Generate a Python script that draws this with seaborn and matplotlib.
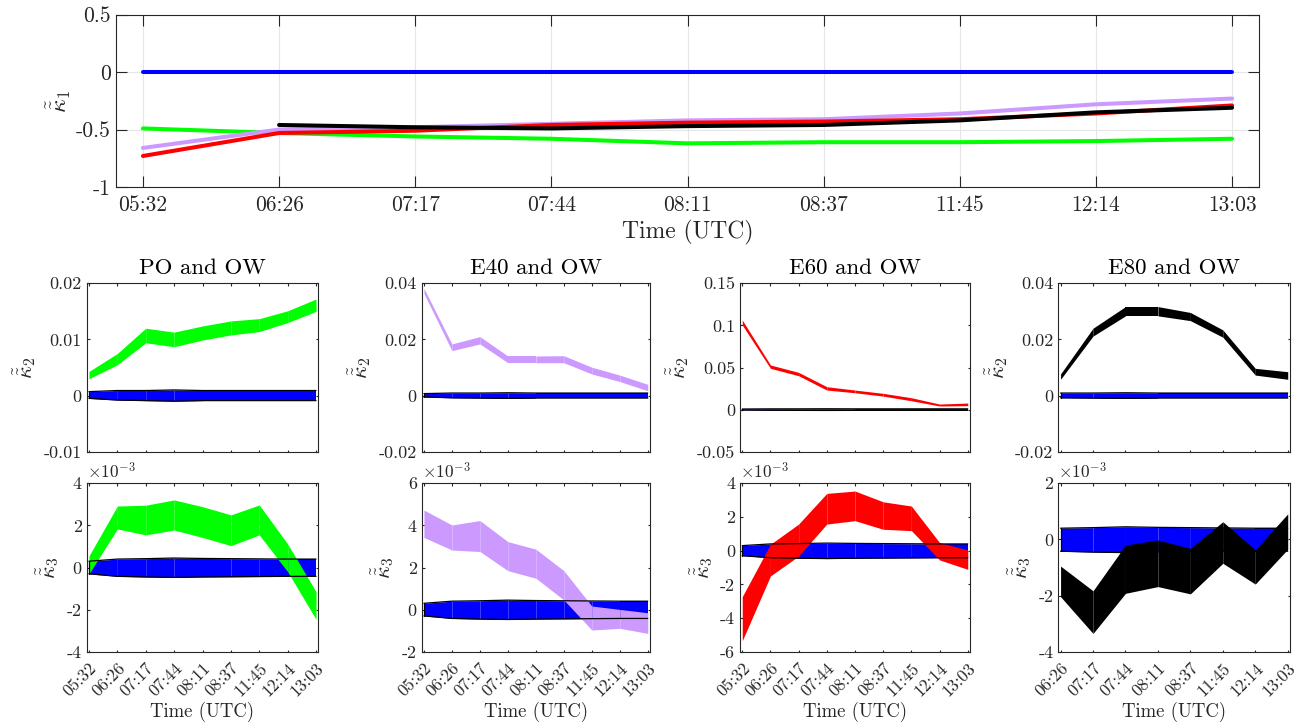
import numpy as np
import pandas as pd
import matplotlib
matplotlib.use("Agg")
import matplotlib.pyplot as plt
import seaborn as sns
from matplotlib.ticker import FixedLocator, FuncFormatter

# ---------------------------------------------------------------- data
times = ["05:32", "06:26", "07:17", "07:44", "08:11", "08:37", "11:45", "12:14", "13:03"]

# first cumulant, one line per surface type
k1_ow = [0.0, 0.0, 0.0, 0.0, 0.0, 0.0, 0.0, 0.0, 0.0]
k1_po = [-0.49, -0.53, -0.56, -0.58, -0.62, -0.61, -0.61, -0.60, -0.58]
k1_e40 = [-0.66, -0.50, -0.48, -0.45, -0.42, -0.41, -0.36, -0.28, -0.23]
k1_e60 = [-0.73, -0.53, -0.51, -0.46, -0.44, -0.43, -0.41, -0.36, -0.29]
k1_e80 = [np.nan, -0.46, -0.48, -0.49, -0.47, -0.46, -0.42, -0.35, -0.31]

# second cumulant bands (upper / lower)
k2_ow_hi = [0.0007, 0.0009, 0.0009, 0.0010, 0.0009, 0.0009, 0.0009, 0.0009, 0.0009]
k2_ow_lo = [-0.0005, -0.0008, -0.0009, -0.0010, -0.0009, -0.0009, -0.0009, -0.0009, -0.0009]
k2_po_hi = [0.0043, 0.0075, 0.0120, 0.0113, 0.0124, 0.0133, 0.0137, 0.0151, 0.0172]
k2_po_lo = [0.0030, 0.0055, 0.0094, 0.0087, 0.0099, 0.0108, 0.0114, 0.0130, 0.0150]
k2_e40_hi = [0.0382, 0.0184, 0.0210, 0.0141, 0.0141, 0.0142, 0.0101, 0.0073, 0.0040]
k2_e40_lo = [0.0364, 0.0160, 0.0184, 0.0117, 0.0117, 0.0117, 0.0077, 0.0050, 0.0017]
k2_e60_hi = [0.1064, 0.0530, 0.0442, 0.0272, 0.0232, 0.0193, 0.0141, 0.0066, 0.0078]
k2_e60_lo = [0.1005, 0.0490, 0.0402, 0.0232, 0.0200, 0.0160, 0.0105, 0.0043, 0.0047]
k2_e80_hi = [0.0077, 0.0240, 0.0317, 0.0317, 0.0296, 0.0234, 0.0097, 0.0085]
k2_e80_lo = [0.0058, 0.0212, 0.0284, 0.0284, 0.0267, 0.0208, 0.0073, 0.0058]

# third cumulant bands (upper / lower)
k3_ow_hi = [0.00030, 0.00040, 0.00042, 0.00045, 0.00043, 0.00042, 0.00041, 0.00040, 0.00040]
k3_ow_lo = [-0.00030, -0.00042, -0.00045, -0.00047, -0.00045, -0.00044, -0.00043, -0.00042, -0.00042]
k3_po_hi = [0.00055, 0.00292, 0.00296, 0.00321, 0.00289, 0.00250, 0.00297, 0.00112, -0.00115]
k3_po_lo = [-0.00030, 0.00183, 0.00155, 0.00178, 0.00143, 0.00104, 0.00155, -0.00020, -0.00246]
k3_e40_hi = [0.00473, 0.00402, 0.00423, 0.00323, 0.00287, 0.00185, 0.00017, 0.00001, -0.00015]
k3_e40_lo = [0.00343, 0.00283, 0.00276, 0.00185, 0.00149, 0.00046, -0.00097, -0.00089, -0.00113]
k3_e60_hi = [-0.00273, 0.00038, 0.00158, 0.00340, 0.00354, 0.00290, 0.00265, 0.00048, 0.00004]
k3_e60_lo = [-0.00535, -0.00150, -0.00032, 0.00158, 0.00178, 0.00127, 0.00119, -0.00055, -0.00111]
k3_e80_hi = [-0.00095, -0.00183, -0.00020, -0.00002, -0.00032, 0.00063, -0.00037, 0.00091]
k3_e80_lo = [-0.00204, -0.00335, -0.00192, -0.00168, -0.00194, -0.00085, -0.00159, -0.00035]

titles = ["PO and OW", "E40 and OW", "E60 and OW", "E80 and OW"]
colors = {"OW": "#0000FF", "PO": "#00FF00", "E40": "#CC99FF", "E60": "#FF0000", "E80": "#000000"}

# ---------------------------------------------------------------- style
sns.set_theme(style="ticks")
plt.rcParams.update({
    "font.family": "serif",
    "font.serif": ["cmr10"],
    "mathtext.fontset": "cm",
    "axes.unicode_minus": False,
    "axes.formatter.use_mathtext": True,
    "axes.edgecolor": "#262626",
    "axes.labelcolor": "#262626",
    "text.color": "#262626",
    "xtick.color": "#262626",
    "ytick.color": "#262626",
    "xtick.direction": "in",
    "ytick.direction": "in",
    "xtick.top": True,
    "ytick.right": True,
    "axes.linewidth": 0.8,
})

W, H = 1305, 727
fig = plt.figure(figsize=(W / 100, H / 100), dpi=100)


def px_rect(left, top, right, bottom):
    return [left / W, 1 - bottom / H, (right - left) / W, (bottom - top) / H]


fmt_g = FuncFormatter(lambda v, p: f"{v:g}")
fmt_e3 = FuncFormatter(lambda v, p: f"{round(v * 1e3, 6):g}")

# ---------------------------------------------------------------- top panel
ax = fig.add_axes(px_rect(115.7, 14.7, 1259.3, 187))
pos = np.arange(len(times))
series = [("OW", k1_ow), ("PO", k1_po), ("E40", k1_e40), ("E60", k1_e60), ("E80", k1_e80)]
df = pd.DataFrame({
    "pos": np.tile(pos, len(series)),
    "kappa1": np.concatenate([s[1] for s in series]),
    "surface": np.repeat([s[0] for s in series], len(times)),
})
sns.lineplot(data=df.dropna(), x="pos", y="kappa1", hue="surface", palette=colors,
             linewidth=2.9, legend=False, ax=ax, sort=False)
ax.set_xlim(-0.2, len(times) - 1 + 0.2)
ax.set_ylim(-1, 0.5)
ax.xaxis.set_major_locator(FixedLocator(pos))
ax.set_xticklabels(times)
ax.yaxis.set_major_locator(FixedLocator([-1, -0.5, 0, 0.5]))
ax.yaxis.set_major_formatter(fmt_g)
ax.grid(True, color="#e6e6e6", linewidth=0.8)
ax.set_axisbelow(True)
ax.tick_params(labelsize=15.5, length=8.2, width=0.8)
ax.tick_params(axis="x", pad=6)
ax.set_xlabel("Time (UTC)", fontsize=17, labelpad=4)
ax.set_ylabel(r"$\tilde{\tilde{\kappa}}_1$", fontsize=17, labelpad=2)

# ---------------------------------------------------------------- bottom panels
cols_px = [(86.7, 318.3), (421.7, 650.0), (740.0, 970.0), (1058.3, 1290.0)]
rows_px = [(283.3, 451.7), (483.3, 651.7)]

k2_bands = [(k2_po_hi, k2_po_lo, "PO"), (k2_e40_hi, k2_e40_lo, "E40"),
            (k2_e60_hi, k2_e60_lo, "E60"), (k2_e80_hi, k2_e80_lo, "E80")]
k3_bands = [(k3_po_hi, k3_po_lo, "PO"), (k3_e40_hi, k3_e40_lo, "E40"),
            (k3_e60_hi, k3_e60_lo, "E60"), (k3_e80_hi, k3_e80_lo, "E80")]
k2_lims = [(-0.01, 0.02, 0.01), (-0.02, 0.04, 0.02), (-0.05, 0.15, 0.05), (-0.02, 0.04, 0.02)]
k3_lims = [(-0.004, 0.004, 0.002), (-0.002, 0.006, 0.002), (-0.006, 0.004, 0.002), (-0.004, 0.002, 0.002)]


def band(ax, x, hi, lo, color, edge=None):
    hi = np.asarray(hi)
    lo = np.asarray(lo)
    # one patch per interval, so the joins show as faint seams
    for i in range(len(x) - 1):
        sl = slice(i, i + 2)
        ax.fill_between(x[sl], lo[sl], hi[sl], facecolor=color, edgecolor=color,
                        linewidth=0.0, antialiased=True)
    if edge is not None:
        ax.plot(x, hi, color=edge, linewidth=0.9)
        ax.plot(x, lo, color=edge, linewidth=0.9)
        ax.plot([x[0], x[0]], [lo[0], hi[0]], color=edge, linewidth=0.9)


for c, (l, r) in enumerate(cols_px):
    start = 1 if c == 3 else 0
    labels = times[start:]
    x = np.arange(len(labels))
    for rr, (t, b) in enumerate(rows_px):
        a = fig.add_axes(px_rect(l, t, r, b))
        if rr == 0:
            hi, lo, key = k2_bands[c]
            band(a, x, k2_ow_hi[start:], k2_ow_lo[start:], colors["OW"], edge="#000000")
            band(a, x, hi, lo, colors[key])
            y0, y1, st = k2_lims[c]
            a.yaxis.set_major_formatter(fmt_g)
            a.set_ylabel(r"$\tilde{\tilde{\kappa}}_2$", fontsize=16, labelpad=4)
            a.set_title(titles[c], fontsize=16.5, color="#000000", pad=7)
            a.set_xticklabels([])
        else:
            hi, lo, key = k3_bands[c]
            band(a, x, k3_ow_hi[start:], k3_ow_lo[start:], colors["OW"], edge="#000000")
            band(a, x, hi, lo, colors[key])
            y0, y1, st = k3_lims[c]
            a.yaxis.set_major_formatter(fmt_e3)
            a.set_ylabel(r"$\tilde{\tilde{\kappa}}_3$", fontsize=16, labelpad=4)
            a.text(0.0, 1.01, r"$\times10^{-3}$", transform=a.transAxes,
                   ha="left", va="bottom", fontsize=12.5, color="#262626")
        pad_x = 0.07 if c == 3 else 0.08
        a.set_xlim(-pad_x, len(x) - 1 + pad_x)
        a.set_ylim(y0, y1)
        a.yaxis.set_major_locator(FixedLocator(np.arange(y0, y1 + st / 2, st)))
        a.xaxis.set_major_locator(FixedLocator(x))
        a.tick_params(labelsize=13, length=1.8, width=0.8)
        if rr == 1:
            a.set_xticklabels(labels, rotation=45, ha="right", rotation_mode="anchor")
            a.tick_params(axis="x", labelsize=12.5, pad=6)
            a.set_xlabel("Time (UTC)", fontsize=13.5, labelpad=2)

fig.savefig("out.png", dpi=100)
